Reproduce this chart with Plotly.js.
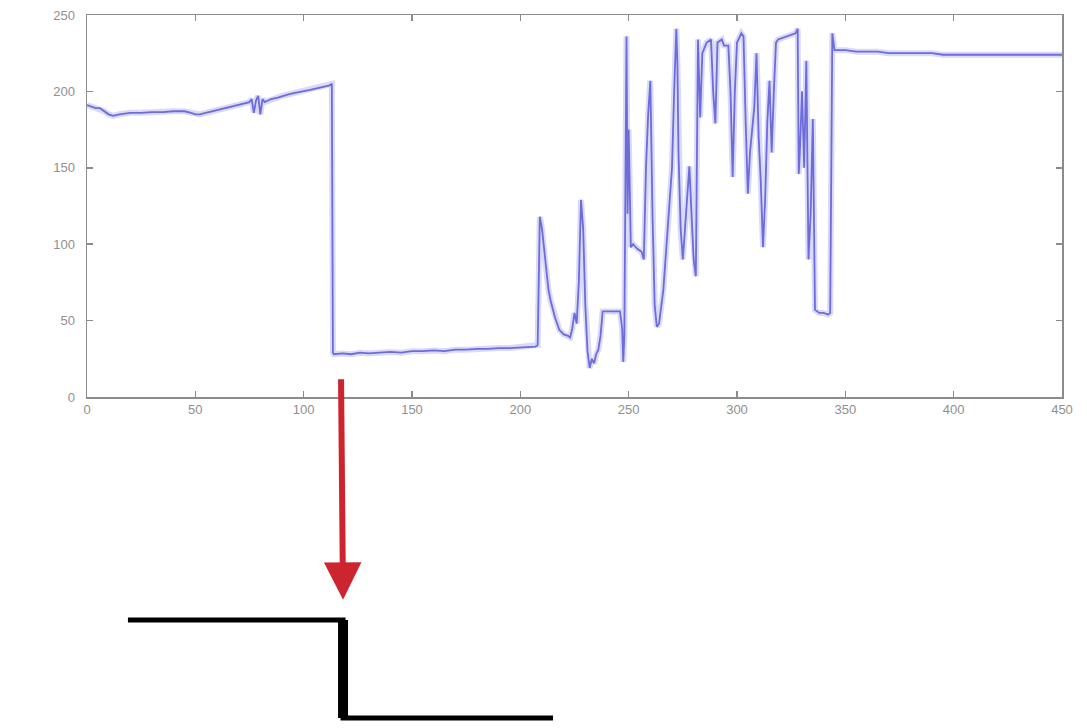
<!DOCTYPE html>
<html>
<head>
<meta charset="utf-8">
<script src="https://cdn.plot.ly/plotly-3.0.1.min.js"></script>
<style>html,body{margin:0;padding:0;background:#fff;}#chart{width:1087px;height:728px;}</style>
</head>
<body>
<div id="chart"></div>
<script>
// Sample index (x) and signal value (y)
const sampleIndex = [
  0,2,4,6,8,10,12,15,20,25,30,35,40,45,48,50,52,55,58,60,63,66,70,73,75,76,77,78,79,80,81,82,85,88,90,93,96,100,103,106,109,112,113,
  113.5,114,118,122,126,130,135,140,145,150,155,160,165,170,175,180,185,190,195,200,205,207,208,
  209,210,211,212,213,214,216,218,220,222,223,224,225,226,227,228,229,230,231,232,233,234,235,236,237,238,240,242,244,246,247,247.5,248,
  249,249.5,250,251,252,254,256,257,258,259,260,261,262,263,264,266,268,270,271,272,272.5,273,274,275,276,277,278,279,280,281,
  282,283,284,286,288,289,290,291,293,294,296,297,298,299,300,302,303,304,305,306,307,308,309,310,311,312,313,314,315,316,317,318,319,
  321,323,325,327,328,328.5,329,330,331,332,333,334,335,336,338,340,342,343,
  344,345,350,355,360,365,370,375,380,385,390,395,400,405,410,415,420,425,430,435,440,445,450
];
const signalValue = [
  191,190,189,189,187,185,184,185,186,186,186.5,186.5,187,187,186,185,185,186,187,188,189,190,191,192,193,195,186,194,197,185,195,193,195,196,197,198,199,200,201,202,203,204,205,
  29,28,28.5,28,29,28.5,29,29.5,29,30,30,30.5,30,31,31,31.5,31.5,32,32,32.5,33,33,34,
  118,110,95,80,70,63,52,44,41,40,39,45,55,48,75,129,110,60,30,19,25,22,28,31,40,56,56,56,56,56,45,23,40,
  236,120,175,98,100,97,95,90,150,185,207,120,60,46,48,70,107,150,200,241,218,160,110,90,110,130,151,120,90,79,
  234,183,225,232,234,200,179,232,234,230,230,200,144,200,232,238,236,180,133,160,177,190,225,170,140,98,130,180,207,160,200,232,234,
  235,236,237,238,241,146,160,200,150,220,90,120,182,57,55,55,54,55,
  238,227,227,226,226,226,225,225,225,225,225,224,224,224,224,224,224,224,224,224,224,224,224
];
const xTicks = [0,50,100,150,200,250,300,350,400,450];
const yTicks = [0,50,100,150,200,250];

const tickFont = {family:'"Liberation Sans", Arial, sans-serif', size:13, color:'#8f8f8f'};
const axisCommon = {
  showline:true, linecolor:'#8c8c8c', linewidth:1.5, mirror:'ticks',
  ticks:'inside', ticklen:6, tickwidth:1.5, tickcolor:'#8c8c8c', showgrid:false, zeroline:false,
  tickfont:tickFont
};

// soft halo (the reference image is blurred) + core line, same data
const halo = {
  x: sampleIndex, y: signalValue, type:'scatter', mode:'lines',
  line:{color:'rgba(150,150,235,0.35)', width:6}, hoverinfo:'none'
};
const trace = {
  x: sampleIndex, y: signalValue, type:'scatter', mode:'lines',
  line:{color:'rgba(80,80,210,0.8)', width:1.8}, hoverinfo:'none'
};

const layout = {
  width:1087, height:728,
  margin:{l:87, r:25, t:15, b:331},
  paper_bgcolor:'#ffffff', plot_bgcolor:'#ffffff',
  showlegend:false,
  xaxis: Object.assign({}, axisCommon, {range:[0,450], tickvals:xTicks, ticktext:xTicks.map(String), ticklabelstandoff:0}),
  yaxis: Object.assign({}, axisCommon, {range:[0,250], tickvals:yTicks, ticktext:yTicks.map(String), ticklabelstandoff:8}),
  shapes: [
    {type:'path', xref:'paper', yref:'paper',
     path:'M 0.042 -0.584 L 0.2626 -0.584 L 0.2626 -0.840 L 0.478 -0.840',
     line:{color:'#000000', width:5}},
    {type:'line', xref:'paper', yref:'paper', x0:0.2626, x1:0.2626, y0:-0.584, y1:-0.840,
     line:{color:'#000000', width:10}}
  ],
  annotations: [
    {xref:'paper', yref:'paper', x:0.2626, y:-0.531, ax:-2, ay:-222, axref:'pixel', ayref:'pixel',
     text:'', showarrow:true, arrowhead:2, arrowsize:1.25, arrowwidth:6, arrowcolor:'#cc2530'}
  ]
};

Plotly.newPlot('chart', [halo, trace], layout, {staticPlot:true, displayModeBar:false});
</script>
</body>
</html>
